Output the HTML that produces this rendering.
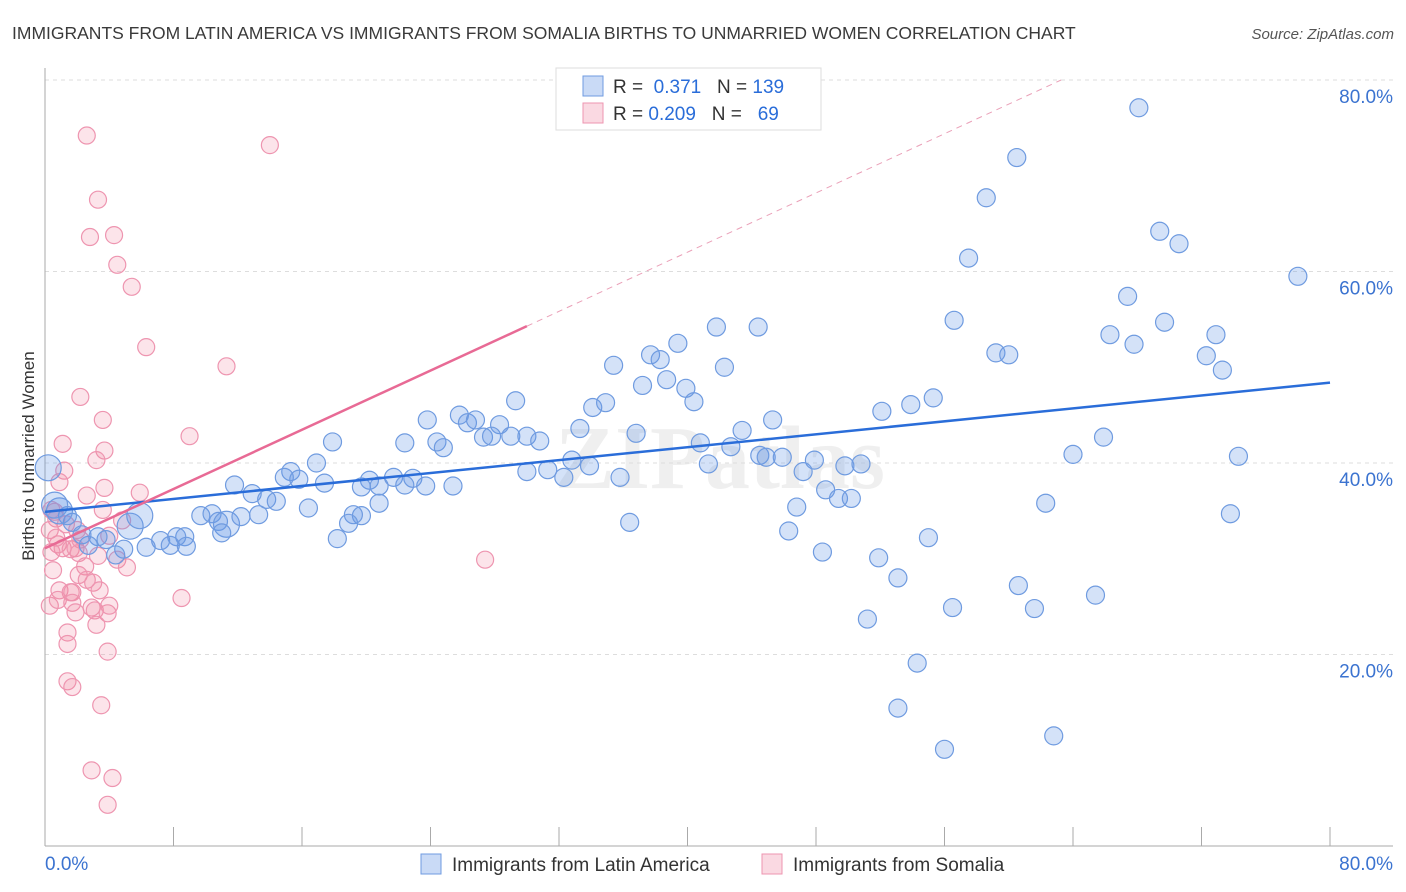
<!DOCTYPE html>
<html><head><meta charset="utf-8">
<style>
body{margin:0;background:#fff;width:1406px;height:892px;overflow:hidden;font-family:"Liberation Sans",sans-serif;}
svg{display:block}
</style></head>
<body>
<svg id="chart" width="1406" height="892">
<text x="12" y="39" font-size="17.5" fill="#3a3a3a">IMMIGRANTS FROM LATIN AMERICA VS IMMIGRANTS FROM SOMALIA BIRTHS TO UNMARRIED WOMEN CORRELATION CHART</text>
<text x="1394" y="39" font-size="15" fill="#555" font-style="italic" text-anchor="end">Source: ZipAtlas.com</text>
<text x="720" y="488" font-size="90" fill="#000" opacity="0.06" text-anchor="middle" font-family="Liberation Serif,serif" font-weight="bold">ZIPatlas</text>
<g id="grid"></g>
<g id="axes"></g>
<g id="pts"></g>
<g id="lines"></g>
<text x="34" y="456" font-size="17" fill="#333" text-anchor="middle" transform="rotate(-90 34 456)">Births to Unmarried Women</text>
<g>
<rect x="556" y="68" width="265" height="62" fill="#fff" stroke="#ddd"/>
<rect x="583" y="76" width="20" height="20" fill="rgba(100,150,230,0.35)" stroke="#6f9be0"/>
<rect x="583" y="103" width="20" height="20" fill="rgba(240,130,160,0.3)" stroke="#ee95b0"/>
<text x="613" y="93" font-size="19" fill="#333">R = <tspan fill="#2a6dd9">&#160;0.371</tspan>&#160;&#160;&#160;N = <tspan fill="#2a6dd9">139</tspan></text>
<text x="613" y="120" font-size="19" fill="#333">R = <tspan fill="#2a6dd9">0.209</tspan>&#160;&#160;&#160;N = <tspan fill="#2a6dd9">&#160;&#160;69</tspan></text>
</g>
<g>
<rect x="421" y="854" width="20" height="20" fill="rgba(100,150,230,0.35)" stroke="#6f9be0"/>
<text x="452" y="871" font-size="19" fill="#333">Immigrants from Latin America</text>
<rect x="762" y="854" width="20" height="20" fill="rgba(240,130,160,0.3)" stroke="#ee95b0"/>
<text x="793" y="871" font-size="19" fill="#333">Immigrants from Somalia</text>
</g>
</svg>
<script>
const yTicks=[20,40,60,80];
const yTickLabels=["20.0%","40.0%","60.0%","80.0%"];
const xTickLabels=["0.0%","80.0%"];
const blueX=[68.1,60.5,58.6,57.5,69.4,70.6,78.0,56.6,67.4,69.7,66.3,67.8,72.9,72.3,73.3,59.2,60.0,41.8,44.4,39.4,37.7,38.3,35.4,42.3,37.2,38.7,39.9,40.4,29.3,25.8,23.8,26.3,26.8,28.3,27.3,27.8,29.0,30.0,30.8,24.4,24.8,22.4,17.9,36.8,33.3,34.1,34.9,43.4,45.3,52.1,53.9,55.3,40.8,42.7,44.5,44.9,45.9,47.9,49.8,50.8,47.2,41.3,35.8,33.9,32.8,31.3,32.3,30.0,64.0,65.9,74.3,16.9,15.3,14.9,15.8,17.4,20.2,20.8,21.7,22.9,22.4,19.7,23.7,25.4,11.8,12.9,13.8,14.4,16.4,20.8,19.7,19.2,18.9,46.8,48.6,49.4,50.2,62.3,73.8,36.4,46.3,55.0,48.4,51.9,53.1,60.6,61.6,56.5,65.4,51.2,54.3,53.1,56.0,62.8,18.2,9.7,10.4,10.8,11.3,12.2,13.3,11.0,8.7,8.2,7.2,7.8,8.8,6.3,4.9,4.4,5.3,5.9,3.8,3.3,2.7,2.3,1.7,1.4,0.9,0.2,0.6];
const blueY=[77.1,71.9,67.7,61.4,64.2,62.9,59.5,54.9,57.4,54.7,53.4,52.4,53.4,51.2,49.7,51.5,51.3,54.2,54.2,52.5,51.3,50.8,50.2,50.0,48.1,48.7,47.8,46.4,46.5,45.0,44.5,44.2,44.5,44.0,42.7,42.8,42.8,42.8,42.3,42.2,41.6,42.1,42.2,43.1,43.6,45.8,46.3,43.4,44.5,45.4,46.1,46.8,42.1,41.7,40.8,40.6,40.6,40.3,39.7,39.9,39.1,39.9,38.5,39.7,40.3,39.3,38.5,39.1,40.9,42.7,40.7,40.0,39.1,38.5,38.3,37.9,38.2,37.6,38.5,38.4,37.7,37.5,37.6,37.6,37.7,36.8,36.2,36.0,35.3,35.8,34.5,34.6,33.7,35.4,37.2,36.3,36.3,35.8,34.7,33.8,32.9,32.2,30.7,30.1,28.0,27.2,24.8,24.9,26.2,23.7,19.1,14.4,10.1,11.5,32.1,34.5,34.7,33.9,33.6,34.4,34.6,32.7,32.3,32.3,31.9,31.4,31.3,31.2,31.0,30.4,33.4,34.5,32.0,32.3,31.4,32.5,33.8,34.5,35.0,39.5,35.6];
const blueBig=[118,130,131,138,139,140,141];
const pinkX=[2.6,14.0,3.3,2.8,4.3,4.5,5.4,6.3,11.3,2.2,3.6,9.0,1.1,3.7,3.2,1.2,0.9,3.7,5.9,2.6,3.6,4.8,0.6,0.7,4.0,0.3,0.8,1.1,1.6,1.9,0.4,2.2,0.5,2.1,3.3,4.5,5.1,2.5,2.1,2.6,3.0,0.9,1.6,1.7,3.4,0.3,0.8,1.7,2.9,3.1,3.9,1.9,3.2,4.0,1.4,1.4,3.9,1.4,1.7,3.5,2.9,4.2,3.9,27.4,8.5,0.4,1.3,0.7,2.0];
const pinkY=[74.2,73.2,67.5,63.6,63.8,60.7,58.4,52.1,50.1,46.9,44.5,42.8,42.0,41.3,40.3,39.2,38.0,37.4,36.9,36.6,35.1,34.0,34.9,34.2,32.4,33.0,31.5,31.1,31.0,31.1,30.7,32.0,28.8,30.6,30.3,29.9,29.1,29.2,28.3,27.8,27.5,26.7,26.5,26.5,26.7,25.1,25.7,25.4,24.9,24.6,24.3,24.4,23.1,25.1,22.3,21.1,20.3,17.2,16.6,14.7,7.9,7.1,4.3,29.9,25.9,35.1,33.6,32.2,33.0];
const blueTrend=[34.9,48.4];
const pinkTrend=[31.1,0.773];

const NS="http://www.w3.org/2000/svg";
const X0=45,X1=1330,Y0=846,YTOP=80;
function sx(v){return X0+v*(X1-X0)/80;}
function sy(v){return Y0-v*(Y0-YTOP)/80;}
function mk(tag,attrs,parent){const e=document.createElementNS(NS,tag);for(const k in attrs)e.setAttribute(k,attrs[k]);parent.appendChild(e);return e;}
const grid=document.getElementById('grid'),axes=document.getElementById('axes'),pts=document.getElementById('pts'),lines=document.getElementById('lines');
yTicks.forEach((t,i)=>{
  const g=mk('line',{x1:X0,x2:1393,y1:sy(t),y2:sy(t),stroke:'#ddd','stroke-dasharray':'4,4'},grid);
  
  
  const l=mk('text',{x:1393,y:sy(t)+23,'font-size':19,fill:'#3b73d0','text-anchor':'end'},axes);
  l.textContent=yTickLabels[i];
  
  
});
const ax=mk('line',{x1:X0,x2:X0,y1:68,y2:Y0,stroke:'#aaa'},axes);


const bx=mk('line',{x1:X0,x2:1393,y1:Y0,y2:Y0,stroke:'#aaa'},axes);


for(let i=1;i<=10;i++){
  const t=mk('line',{x1:sx(i*8),x2:sx(i*8),y1:Y0-19,y2:Y0,stroke:'#aaa'},axes);
  
  
}
const xl0=mk('text',{x:45,y:870,'font-size':19,fill:'#3b73d0'},axes);xl0.textContent=xTickLabels[0];


const xl1=mk('text',{x:1393,y:870,'font-size':19,fill:'#3b73d0','text-anchor':'end'},axes);xl1.textContent=xTickLabels[1];


pinkX.forEach((v,i)=>{
  const c=mk('circle',{cx:sx(v),cy:sy(pinkY[i]),r:8.5,fill:'rgba(240,130,160,0.22)',stroke:'#ee95b0','stroke-width':1.2},pts);
  
  
});
blueX.forEach((v,i)=>{
  const r=blueBig.indexOf(i)>=0?13:9;
  const c=mk('circle',{cx:sx(v),cy:sy(blueY[i]),r:r,fill:'rgba(100,150,230,0.28)',stroke:'#6f9be0','stroke-width':1.2},pts);
  
  
});
const bl=mk('line',{x1:sx(0),y1:sy(blueTrend[0]),x2:sx(80),y2:sy(blueTrend[1]),stroke:'#2a6dd9','stroke-width':2.5},lines);


const pEnd=30, pDash=(80-pinkTrend[0])/pinkTrend[1];
const pl=mk('line',{x1:sx(0),y1:sy(pinkTrend[0]),x2:sx(pEnd),y2:sy(pinkTrend[0]+pinkTrend[1]*pEnd),stroke:'#e86a95','stroke-width':2.5},lines);


const pd=mk('line',{x1:sx(pEnd),y1:sy(pinkTrend[0]+pinkTrend[1]*pEnd),x2:sx(pDash),y2:sy(80),stroke:'#eaa0b8','stroke-width':1,'stroke-dasharray':'6,5'},lines);


</script>
</body></html>
